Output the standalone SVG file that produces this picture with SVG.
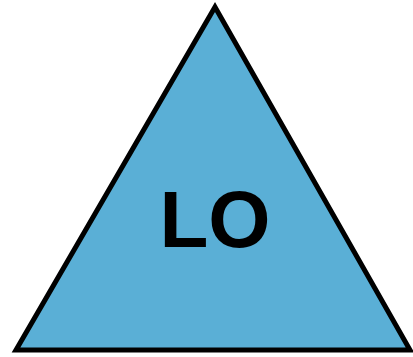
<svg xmlns="http://www.w3.org/2000/svg" width="413" height="357" viewBox="0 0 413 357">
<style>
.shape{fill:#5aafd6;stroke:#000;stroke-width:5;stroke-linejoin:miter}
.label{font-family:"Liberation Sans",Arial,sans-serif;font-weight:bold;font-size:80px;fill:#000;text-anchor:middle}
</style>
<g id="node-lo">
<polygon class="shape" points="215,7 16,350 410,350"/>
<text class="label" x="215" y="247">LO</text>
</g>
<g id="connectors"/>
</svg>
